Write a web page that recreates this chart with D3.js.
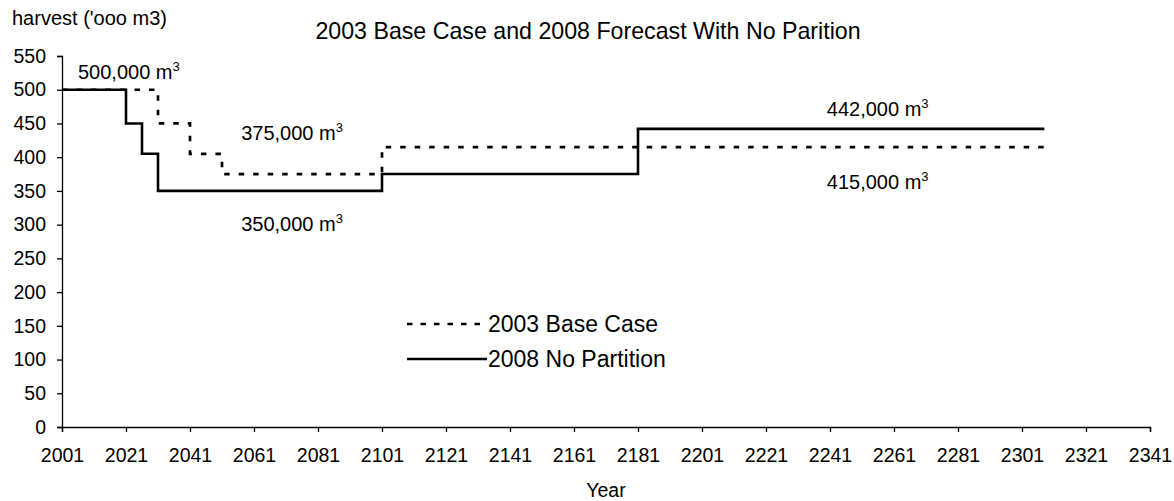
<!DOCTYPE html>
<html>
<head>
<meta charset="utf-8">
<script src="https://cdn.jsdelivr.net/npm/d3@7"></script>
<style>
  body { margin: 0; background: #fff; }
  text { font-family: "Liberation Sans", Arial, sans-serif; fill: #000; }
</style>
</head>
<body>
<svg id="chart" width="1174" height="501"></svg>
<script>
// step breakpoints (year the level starts, level in '000 m3)
var baseYears = [2001, 2031, 2041, 2051, 2101, 2308];
var baseValues = [500, 450, 405, 375, 415, 415];
var noPartYears = [2001, 2021, 2026, 2031, 2101, 2181, 2308];
var noPartValues = [500, 450, 405, 350, 375, 442, 442];

var xTicks = d3.range(2001, 2342, 20);
var yTicks = d3.range(0, 551, 50);

var seriesNames = ["2003 Base Case", "2008 No Partition"];

// annotations: [year, value, text]
var notes = [
	[2006, 500, "500,000"],
	[2057, 375, "375,000"],
	[2057, 350, "350,000"],
	[2240, 442, "442,000"],
	[2240, 415, "415,000"]
];

var svg = d3.select("#chart");
var plotLeft = 62, plotRight = 1150, plotTop = 56, plotBottom = 427;

var x = d3.scaleLinear().domain([2001, 2341]).range([plotLeft, plotRight]);
var y = d3.scaleLinear().domain([0, 550]).range([plotBottom, plotTop]);

// axes
var xAxis = svg.append("g")
	.attr("transform", "translate(0," + plotBottom + ")")
	.call(d3.axisBottom(x).tickValues(xTicks).tickFormat(d3.format("d")).tickSizeOuter(0).tickSize(5).tickPadding(16));
var yAxis = svg.append("g")
	.attr("transform", "translate(" + plotLeft + ",0)")
	.call(d3.axisLeft(y).tickValues(yTicks).tickSizeOuter(0).tickSize(5).tickPadding(11));

[xAxis, yAxis].forEach(function (a) {
	a.select(".domain").attr("stroke", "#000").attr("stroke-width", 1.3);
	a.selectAll(".tick line").attr("stroke", "#000").attr("stroke-width", 1.3);
	a.selectAll(".tick text").attr("font-size", 19.5).attr("font-family", "Liberation Sans, Arial, sans-serif").attr("fill", "#000");
});

// lines
var line = d3.line()
	.x(function (d) { return x(d[0]); })
	.y(function (d) { return y(d[1]); })
	.curve(d3.curveStepAfter);

var baseData = d3.zip(baseYears, baseValues);
var noPartData = d3.zip(noPartYears, noPartValues);

svg.append("path")
	.datum(noPartData)
	.attr("d", line)
	.attr("fill", "none")
	.attr("stroke", "#000")
	.attr("stroke-width", 2.6);

svg.append("path")
	.datum(baseData)
	.attr("d", line)
	.attr("fill", "none")
	.attr("stroke", "#000")
	.attr("stroke-width", 2.7)
	.attr("stroke-dasharray", "5.5,9");

// annotations
var offsets = { "500,000": -11, "375,000": -34, "350,000": 40, "442,000": -13, "415,000": 42 };
notes.forEach(function (n) {
	var t = svg.append("text")
		.attr("x", x(n[0]))
		.attr("y", y(n[1]) + offsets[n[2]])
		.attr("font-size", 20)
		.text(n[2] + " m");
	t.append("tspan")
		.attr("font-size", 13)
		.attr("dy", -8)
		.text("3");
});

// titles
svg.append("text")
	.attr("x", 588)
	.attr("y", 39)
	.attr("text-anchor", "middle")
	.attr("font-size", 23.2)
	.text("2003 Base Case and 2008 Forecast With No Parition");

svg.append("text")
	.attr("x", 12)
	.attr("y", 25)
	.attr("font-size", 20)
	.text("harvest ('ooo m3)");

svg.append("text")
	.attr("x", (plotLeft + plotRight) / 2)
	.attr("y", 497)
	.attr("text-anchor", "middle")
	.attr("font-size", 19.5)
	.text("Year");

// legend
var legend = svg.append("g");
seriesNames.forEach(function (name, i) {
	var ly = 324 + i * 35;
	legend.append("line")
		.attr("x1", 407).attr("x2", 487)
		.attr("y1", ly).attr("y2", ly)
		.attr("stroke", "#000")
		.attr("stroke-width", 2.6)
		.attr("stroke-dasharray", i == 0 ? "5.5,8" : null);
	legend.append("text")
		.attr("x", 488)
		.attr("y", ly + 8)
		.attr("font-size", 23)
		.text(name);
});
</script>
</body>
</html>
